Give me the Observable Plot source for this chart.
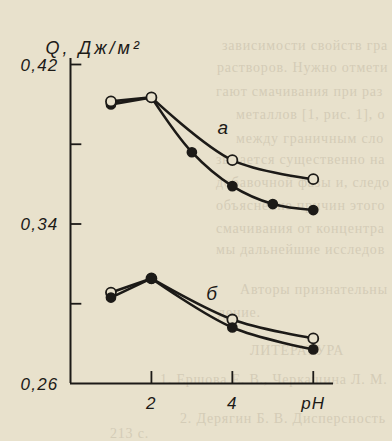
<!DOCTYPE html>
<html>
<head>
<meta charset="utf-8">
<script src="https://cdn.jsdelivr.net/npm/d3@7"></script>
<script src="https://cdn.jsdelivr.net/npm/@observablehq/plot@0.6"></script>
<style>
  html, body { margin: 0; padding: 0; background: #e8e1cc; }
  #wrap { position: relative; width: 392px; height: 441px; overflow: hidden; background: #e8e1cc; }
  #bleed { position: absolute; left: 0; top: 0; width: 392px; height: 441px;
    font-family: "Liberation Serif", "DejaVu Serif", serif; font-size: 14px; line-height: 15px; color: #d4ccb7; letter-spacing: 0.8px; white-space: nowrap; }
  #bleed div { position: absolute; }
  #chart { position: absolute; left: 0; top: 0; }
  #chart svg { background: transparent !important; }
  #chart svg text { letter-spacing: 1.2px; }
</style>
</head>
<body>
<div id="wrap">
  <div id="bleed"></div>
  <div id="chart"></div>
</div>
<script>
// Ticks and labels
const xTicks = [2, 4, 6];
const xTickLabels = ["2", "4", "pH"];
const yTicks = [0.42, 0.38, 0.34, 0.30];
const yLabelValues = [0.42, 0.34, 0.26];
const yLabelTexts = ["0,42", "0,34", "0,26"];
const titleText = "Q, Дж/м²";

// Series а (upper)
const pH_a_filled = [1, 2, 3, 4, 5, 6];
const Q_a_filled = [0.400, 0.4035, 0.376, 0.359, 0.350, 0.347];
const pH_a_open = [1, 2, 4, 6];
const Q_a_open = [0.4015, 0.4035, 0.372, 0.3625];

// Series б (lower)
const pH_b_open = [1, 2, 4, 6];
const Q_b_open = [0.3056, 0.3127, 0.2921, 0.2826];
const pH_b_filled = [1, 2, 4, 6];
const Q_b_filled = [0.3031, 0.3127, 0.2881, 0.2771];

// Curve labels
const curveLabels = ["а", "б"];
const curveLabelX = [3.78, 3.5];
const curveLabelY = [0.388, 0.305];

// Faint text showing through from the reverse page
const bleedLines = [
  "зависимости свойств граничных слоев",
  "растворов. Нужно отметить, что",
  "гают смачивания при разных pH",
  "металлов [1, рис. 1], отмечена сл",
  "между граничным слоем и объемом",
  "зывается существенно на адсорбции",
  "добавочной фазы и, следовательно",
  "объяснение причин этого эффекта",
  "смачивания от концентрации",
  "мы дальнейшие исследования.",
  "Авторы признательны Ю. М. Ч",
  "дение.",
  "ЛИТЕРАТУРА",
  "1. Ершова Е. В., Черкашина Л. М., Желтов",
  "2. Дерягин Б. В. Дисперсность дисперс",
  "213 с."
];
const bleedX = [222, 217, 216, 236, 236, 216, 216, 216, 216, 216, 240, 218, 250, 160, 180, 110];
const bleedY = [38, 60, 84, 107, 131, 152, 175, 198, 221, 242, 282, 305, 343, 372, 411, 426];

const bleed = document.getElementById("bleed");
bleedLines.forEach((t, i) => {
  const d = document.createElement("div");
  d.textContent = t;
  d.style.left = bleedX[i] + "px";
  d.style.top = bleedY[i] + "px";
  bleed.appendChild(d);
  let s = t;
  while (s.length > 1 && d.offsetLeft + d.offsetWidth > 390) {
    s = s.slice(0, -1).trimEnd();
    d.textContent = s;
  }
});

const toRows = (xs, ys) => xs.map((x, i) => ({x, y: ys[i]}));
const aF = toRows(pH_a_filled, Q_a_filled);
const aO = toRows(pH_a_open, Q_a_open);
const bO = toRows(pH_b_open, Q_b_open);
const bF = toRows(pH_b_filled, Q_b_filled);
const labels = curveLabels.map((t, i) => ({t, x: curveLabelX[i], y: curveLabelY[i]}));

const ink = "#1c1a17";
const bg = "#e8e1cc";
const lw = 2.6;
const font = "'Liberation Sans', 'DejaVu Sans', sans-serif";

function seriesMarks(rows) {
  const head = rows.filter(d => d.x <= 2);
  const tail = rows.filter(d => d.x >= 2);
  return [
    Plot.line(head, {x: "x", y: "y", stroke: ink, strokeWidth: lw}),
    Plot.line(tail, {x: "x", y: "y", stroke: ink, strokeWidth: lw, curve: "catmull-rom"})
  ];
}
function dots(rows, open) {
  return open
    ? Plot.dot(rows, {x: "x", y: "y", r: 5, fill: bg, stroke: ink, strokeWidth: 1.8})
    : Plot.dot(rows, {x: "x", y: "y", r: 4.6, fill: ink, stroke: ink});
}

const chart = Plot.plot({
  width: 392,
  height: 441,
  marginLeft: 70,
  marginRight: 59,
  marginTop: 64,
  marginBottom: 58,
  style: {background: "transparent", fontFamily: font},
  x: {domain: [0, 6.5], axis: null},
  y: {domain: [0.26, 0.42], axis: null},
  marks: [
    // axes
    Plot.ruleX([0], {y1: 0.26, y2: 0.423, stroke: ink, strokeWidth: 2}),
    Plot.ruleY([0.26], {x1: 0, x2: 6.5, stroke: ink, strokeWidth: 2}),
    Plot.ruleY(yTicks, {x1: 0, x2: 0.28, stroke: ink, strokeWidth: 1.8}),
    Plot.ruleX(xTicks, {y1: 0.26, y2: 0.266, stroke: ink, strokeWidth: 1.8}),
    Plot.text(yLabelValues, {x: 0, y: d => d, text: (d, i) => yLabelTexts[i], dx: -12, dy: 1, textAnchor: "end",
      fontSize: 17, fontStyle: "italic", fill: ink}),
    Plot.text(xTicks, {x: d => d, y: 0.26, text: (d, i) => xTickLabels[i], dy: 20,
      fontSize: 17, fontStyle: "italic", fill: ink}),
    Plot.text([titleText], {frameAnchor: "top-left", text: d => d, dx: -25, dy: -23, textAnchor: "start",
      fontSize: 18, fontStyle: "italic", fill: ink}),
    // lines
    ...seriesMarks(aO), ...seriesMarks(aF),
    ...seriesMarks(bO), ...seriesMarks(bF),
    // points
    dots(aF, false), dots(aO, true),
    dots(bO, true), dots(bF, false),
    // curve labels
    Plot.text(labels, {x: "x", y: "y", text: "t", fontSize: 19, fontStyle: "italic", fill: ink})
  ]
});
d3.select(chart).selectAll("text")
  .filter(function () { return this.textContent === titleText; })
  .style("letter-spacing", "3px");
document.getElementById("chart").appendChild(chart);
</script>
</body>
</html>
